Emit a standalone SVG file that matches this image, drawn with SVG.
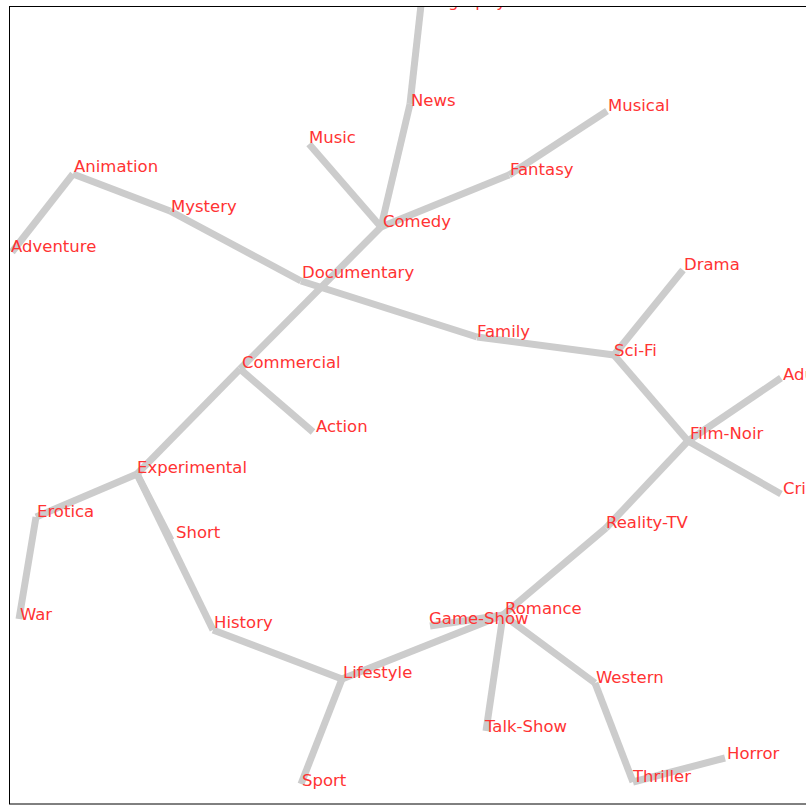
<svg xmlns="http://www.w3.org/2000/svg" width="806" height="806" viewBox="0 0 806 806">
<style>
.e{stroke:#cccccc;stroke-width:7;stroke-linecap:butt;fill:none}
.l{font-family:"DejaVu Sans",sans-serif;font-size:16.5px;fill:#ff3333}
</style>
<defs><clipPath id="ax"><rect x="9.5" y="6.5" width="900" height="797.5"/></clipPath></defs>
<rect width="806" height="806" fill="#ffffff"/>
<g clip-path="url(#ax)">
<g id="edges">
<line class="e" x1="421" y1="5" x2="410" y2="104"/>
<line class="e" x1="410" y1="104" x2="381" y2="227"/>
<line class="e" x1="309" y1="144" x2="381" y2="227"/>
<line class="e" x1="381" y1="227" x2="509" y2="175"/>
<line class="e" x1="509" y1="175" x2="607" y2="111"/>
<line class="e" x1="381" y1="227" x2="240" y2="369"/>
<line class="e" x1="73" y1="174" x2="12" y2="252"/>
<line class="e" x1="73" y1="174" x2="170" y2="211"/>
<line class="e" x1="170" y1="211" x2="301" y2="281"/>
<line class="e" x1="301" y1="281" x2="477" y2="337"/>
<line class="e" x1="477" y1="337" x2="614" y2="355"/>
<line class="e" x1="614" y1="355" x2="683" y2="270"/>
<line class="e" x1="614" y1="355" x2="688" y2="441"/>
<line class="e" x1="688" y1="441" x2="781" y2="378"/>
<line class="e" x1="688" y1="441" x2="781" y2="494"/>
<line class="e" x1="688" y1="441" x2="606" y2="528"/>
<line class="e" x1="606" y1="528" x2="503" y2="615"/>
<line class="e" x1="240" y1="369" x2="313" y2="432"/>
<line class="e" x1="240" y1="369" x2="137" y2="474"/>
<line class="e" x1="137" y1="474" x2="36" y2="517"/>
<line class="e" x1="36" y1="517" x2="19" y2="619"/>
<line class="e" x1="137" y1="474" x2="171" y2="540"/>
<line class="e" x1="137" y1="474" x2="213" y2="630"/>
<line class="e" x1="213" y1="630" x2="342" y2="679"/>
<line class="e" x1="342" y1="679" x2="301" y2="784"/>
<line class="e" x1="342" y1="679" x2="503" y2="615"/>
<line class="e" x1="430" y1="626" x2="503" y2="615"/>
<line class="e" x1="503" y1="615" x2="486" y2="731"/>
<line class="e" x1="503" y1="615" x2="595" y2="683"/>
<line class="e" x1="595" y1="683" x2="633" y2="782"/>
<line class="e" x1="633" y1="782" x2="725" y2="758"/>
</g>
<g id="n-biography"><text class="l" x="422" y="7">Biography</text></g>
<g id="n-news"><text class="l" x="411" y="106">News</text></g>
<g id="n-music"><text class="l" x="309" y="143">Music</text></g>
<g id="n-comedy"><text class="l" x="383" y="227">Comedy</text></g>
<g id="n-fantasy"><text class="l" x="510" y="175">Fantasy</text></g>
<g id="n-musical"><text class="l" x="608" y="111">Musical</text></g>
<g id="n-animation"><text class="l" x="74" y="172">Animation</text></g>
<g id="n-adventure"><text class="l" x="11" y="252">Adventure</text></g>
<g id="n-mystery"><text class="l" x="171" y="212">Mystery</text></g>
<g id="n-documentary"><text class="l" x="302" y="278">Documentary</text></g>
<g id="n-family"><text class="l" x="477" y="337">Family</text></g>
<g id="n-scifi"><text class="l" x="614" y="356">Sci-Fi</text></g>
<g id="n-drama"><text class="l" x="684" y="270">Drama</text></g>
<g id="n-adult"><text class="l" x="783" y="380">Adult</text></g>
<g id="n-filmnoir"><text class="l" x="690" y="439">Film-Noir</text></g>
<g id="n-crime"><text class="l" x="783" y="494">Crime</text></g>
<g id="n-realitytv"><text class="l" x="606" y="528">Reality-TV</text></g>
<g id="n-romance"><text class="l" x="505" y="614">Romance</text></g>
<g id="n-gameshow"><text class="l" x="429" y="624">Game-Show</text></g>
<g id="n-lifestyle"><text class="l" x="343" y="678">Lifestyle</text></g>
<g id="n-talkshow"><text class="l" x="485" y="732">Talk-Show</text></g>
<g id="n-western"><text class="l" x="596" y="683">Western</text></g>
<g id="n-thriller"><text class="l" x="633" y="782">Thriller</text></g>
<g id="n-horror"><text class="l" x="727" y="759">Horror</text></g>
<g id="n-sport"><text class="l" x="302" y="786">Sport</text></g>
<g id="n-history"><text class="l" x="214" y="628">History</text></g>
<g id="n-short"><text class="l" x="176" y="538">Short</text></g>
<g id="n-experimental"><text class="l" x="137" y="473">Experimental</text></g>
<g id="n-erotica"><text class="l" x="37" y="517">Erotica</text></g>
<g id="n-war"><text class="l" x="20" y="620">War</text></g>
<g id="n-commercial"><text class="l" x="242" y="368">Commercial</text></g>
<g id="n-action"><text class="l" x="316" y="432">Action</text></g>
</g>
<rect x="9.5" y="6.5" width="900" height="797.5" fill="none" stroke="#000000" stroke-width="1"/>
</svg>
